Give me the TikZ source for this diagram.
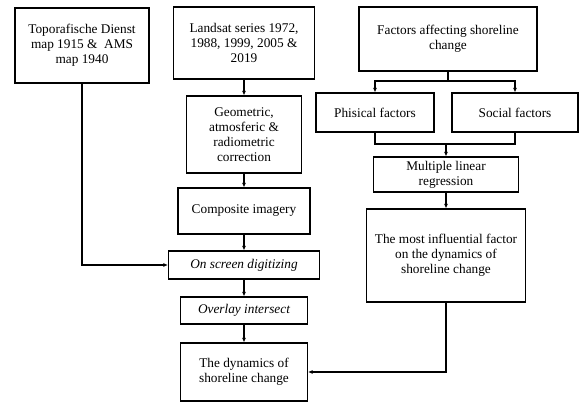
\documentclass[tikz,border=0pt]{standalone}
\usepackage{fontspec}
\setmainfont{Liberation Serif}
\usetikzlibrary{arrows.meta}

\tikzset{
  box/.style={draw, line width=1.1pt, align=center, inner sep=2pt,
    font=\fontsize{13.3}{15.2}\selectfont},
  flow/.style={line width=1.1pt, -{Latex[length=4.5pt,width=4pt]}},
  line/.style={line width=1.1pt}
}

\begin{document}
\begin{tikzpicture}[x=1pt,y=-1pt]
\useasboundingbox (0,0) rectangle (579,403);
% left column
\node[box, minimum width=134pt, minimum height=75pt] (topo) at (82,45.5)
  {Toporafische Dienst\\map 1915 \&\ \ AMS\\map 1940};
% middle column
\node[box, minimum width=141pt, minimum height=72pt] (landsat) at (244,43)
  {Landsat series 1972,\\1988, 1999, 2005 \&\\2019};
\node[box, minimum width=115pt, minimum height=77pt] (geo) at (244,134.5)
  {Geometric,\\atmosferic \&\\radiometric\\correction};
\node[box, minimum width=132pt, minimum height=46pt] (comp) at (244,211)
  {Composite imagery};
\node[box, minimum width=151pt, minimum height=28pt] (digit) at (244,265)
  {\itshape On screen digitizing};
\node[box, minimum width=127pt, minimum height=27pt] (overlay) at (244,310.5)
  {\itshape Overlay intersect};
\node[box, minimum width=127pt, minimum height=58pt] (dyn) at (244,372)
  {The dynamics of\\shoreline change};
% right column
\node[box, minimum width=178pt, minimum height=64pt] (factors) at (448,39)
  {Factors affecting shoreline\\change};
\node[box, minimum width=118pt, minimum height=39pt] (phis) at (375,112.5)
  {Phisical factors};
\node[box, minimum width=126pt, minimum height=39pt] (social) at (515,112.5)
  {Social factors};
\node[box, minimum width=145pt, minimum height=35pt] (mlr) at (446,174.5)
  {Multiple linear\\regression};
\node[box, minimum width=159pt, minimum height=93pt] (most) at (446,255.5)
  {The most influential factor\\on the dynamics of\\shoreline change};
\coordinate (split) at (448,81);
\coordinate (merge) at (446,144);

% connectors
\draw[flow] (landsat) -- (geo);
\draw[flow] (geo) -- (comp);
\draw[flow] (comp) -- (digit);
\draw[flow] (digit) -- (overlay);
\draw[flow] (overlay) -- (dyn);
\draw[flow] (topo.south) |- (digit.west);
\draw[line] (factors.south) -- (split);
\draw[flow] (split) -| (phis.north);
\draw[flow] (split) -| (social.north);
\draw[line] (phis.south) |- (merge) -| (social.south);
\draw[flow] (merge) -- (mlr.north);
\draw[flow] (mlr) -- (most);
\draw[flow] (most.south) |- (dyn.east);
\end{tikzpicture}
\end{document}
